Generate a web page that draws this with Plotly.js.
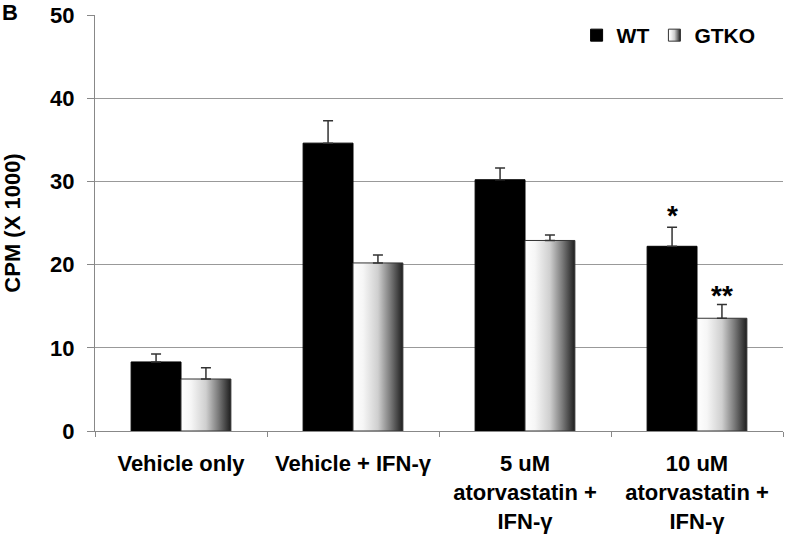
<!DOCTYPE html>
<html>
<head>
<meta charset="utf-8">
<script src="https://cdn.plot.ly/plotly-3.0.1.min.js"></script>
<style>html,body{margin:0;padding:0;background:#fff;}#chart{width:786px;height:539px;}</style>
</head>
<body>
<div id="chart"></div>
<script>
const categories = ["Vehicle only", "Vehicle + IFN-γ", "5 uM<br>atorvastatin +<br>IFN-γ", "10 uM<br>atorvastatin +<br>IFN-γ"];
const wtValues = [8.3, 34.6, 30.2, 22.2];
const wtErrors = [0.95, 2.7, 1.4, 2.3];
const gtkoValues = [6.25, 20.2, 22.9, 13.55];
const gtkoErrors = [1.35, 0.95, 0.65, 1.65];
const wtSig = ["", "", "", "*"];
const gtkoSig = ["", "", "", "**"];
const yTicks = [0, 10, 20, 30, 40, 50];

const FONT = "Liberation Sans, Arial, sans-serif";

const traces = [
  {
    type: "bar", name: "WT", x: categories, y: wtValues,
    marker: {color: "#000000", line: {color: "#000000", width: 1}},
    error_y: {type: "data", array: wtErrors, symmetric: false, arrayminus: wtErrors.map(() => 0), color: "#333333", thickness: 1.5, width: 5}
  },
  {
    type: "bar", name: "GTKO", x: categories, y: gtkoValues,
    marker: {color: "#bbbbbb", line: {color: "#333333", width: 1}},
    error_y: {type: "data", array: gtkoErrors, symmetric: false, arrayminus: gtkoErrors.map(() => 0), color: "#333333", thickness: 1.5, width: 5}
  }
];

const annotations = [];
categories.forEach((c, i) => {
  if (wtSig[i]) annotations.push({x: c, y: wtValues[i] + wtErrors[i], xref: "x", yref: "y", text: wtSig[i], showarrow: false, xshift: -25, yanchor: "bottom", yshift: -6, font: {family: FONT, size: 28, weight: "bold", color: "#000"}});
  if (gtkoSig[i]) annotations.push({x: c, y: gtkoValues[i] + gtkoErrors[i], xref: "x", yref: "y", text: gtkoSig[i], showarrow: false, xshift: 25, yanchor: "bottom", yshift: -8, font: {family: FONT, size: 28, weight: "bold", color: "#000"}});
});
annotations.push({xref: "paper", yref: "paper", x: -0.138, y: 1.005, xanchor: "left", yanchor: "middle", text: "B", showarrow: false, font: {family: FONT, size: 22, weight: "bold", color: "#000"}});

const layout = {
  width: 786, height: 539,
  margin: {l: 95, r: 3, t: 15, b: 108},
  paper_bgcolor: "#fff", plot_bgcolor: "#fff",
  font: {family: FONT, size: 22, weight: "bold", color: "#000"},
  barmode: "group", bargap: 0.42, bargroupgap: 0,
  showlegend: true,
  legend: {orientation: "h", x: 0.70, xanchor: "left", y: 1.0, yanchor: "top", bgcolor: "#ffffff", font: {family: FONT, size: 21, weight: "bold"}, itemwidth: 30, traceorder: "normal"},
  xaxis: {
    type: "category", showgrid: false, showline: true, linecolor: "#888", linewidth: 1,
    ticks: "outside", tickson: "boundaries", ticklen: 5, tickcolor: "#888",
    ticklabelstandoff: 13,
    tickfont: {family: FONT, size: 22, weight: "bold", color: "#000"}
  },
  yaxis: {
    range: [0, 50], tickvals: yTicks, ticktext: yTicks.map(String),
    showgrid: true, gridcolor: "#999", gridwidth: 1,
    showline: true, linecolor: "#888", linewidth: 1, zeroline: false,
    ticks: "outside", ticklen: 7, tickcolor: "#888", ticklabelstandoff: 8,
    tickfont: {family: FONT, size: 22, weight: "bold", color: "#000"},
    title: {text: "CPM (X 1000)", standoff: 28, font: {family: FONT, size: 22, weight: "bold", color: "#000"}}
  },
  annotations: annotations
};

Plotly.newPlot("chart", traces, layout, {displayModeBar: false, staticPlot: true}).then(gd => {
  const svg = gd.querySelector("svg.main-svg");
  const NS = "http://www.w3.org/2000/svg";
  let defs = svg.querySelector("defs");
  if (!defs) { defs = document.createElementNS(NS, "defs"); svg.insertBefore(defs, svg.firstChild); }
  const grad = document.createElementNS(NS, "linearGradient");
  grad.setAttribute("id", "gtkoGrad");
  grad.setAttribute("x1", "0"); grad.setAttribute("y1", "0");
  grad.setAttribute("x2", "1"); grad.setAttribute("y2", "0");
  [[0, "#ffffff"], [0.2, "#f6f6f6"], [0.5, "#cfcfcf"], [0.75, "#7a7a7a"], [1, "#1e1e1e"]].forEach(([o, c]) => {
    const s = document.createElementNS(NS, "stop");
    s.setAttribute("offset", o); s.setAttribute("stop-color", c);
    grad.appendChild(s);
  });
  defs.appendChild(grad);
  const barTraces = gd.querySelectorAll(".barlayer .trace");
  if (barTraces[1]) barTraces[1].querySelectorAll("path").forEach(p => { p.style.fill = "url(#gtkoGrad)"; });
  const legTraces = gd.querySelectorAll(".legend .traces");
  if (legTraces[1]) legTraces[1].querySelectorAll(".legendpoints path").forEach(p => { p.style.fill = "url(#gtkoGrad)"; });
});
</script>
</body>
</html>
